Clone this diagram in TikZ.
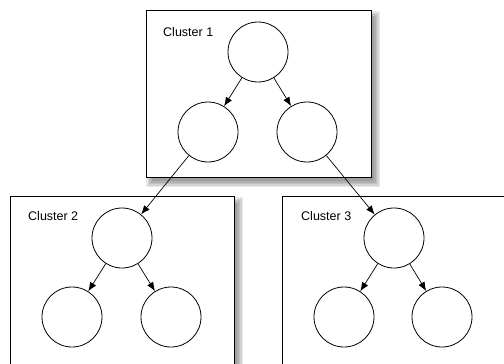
\documentclass[tikz,border=0pt]{standalone}
\usepackage{fontspec}
\setmainfont{Liberation Sans}
\usetikzlibrary{arrows.meta}
\begin{document}
\begin{tikzpicture}[x=1pt,y=-1pt,
  cluster/.style={draw=black,fill=white,line width=0.8pt},
  shade/.style={fill=black,opacity=0.09,draw=none},
  vert/.style={draw=black,fill=white,circle,minimum size=60pt,inner sep=0pt,line width=0.8pt},
  lab/.style={font=\fontsize{12.5}{14}\selectfont,anchor=west,inner sep=0pt},
  arr/.style={-{Latex[length=9pt,width=7pt]},line width=0.7pt}]
\useasboundingbox (0,0) rectangle (504,364);
% shadows
\foreach \k in {0,1.5,3,4.5,6} {
  \path[shade] (149-\k+3,14-\k+3) rectangle (374+\k,181+\k);
  \path[shade] (13-\k+3,200-\k+3) rectangle (237+\k,376);
  \path[shade] (285-\k+3,200-\k+3) rectangle (513,376);
}
% clusters
\path[cluster] (146,10) rectangle (371,177);
\path[cluster] (10,196) rectangle (234,372);
\path[cluster] (282,196) rectangle (510,372);
\node[lab] (l1) at (163,32) {Cluster 1};
\node[lab] (l2) at (28,216) {Cluster 2};
\node[lab] (l3) at (301,216) {Cluster 3};
% cluster 1
\node[vert] (a) at (258,52) {};
\node[vert] (b) at (208,132) {};
\node[vert] (c) at (307,132) {};
% cluster 2
\node[vert] (d) at (122,238) {};
\node[vert] (e) at (72,317) {};
\node[vert] (f) at (171,317) {};
% cluster 3
\node[vert] (g) at (394,238) {};
\node[vert] (h) at (344,317) {};
\node[vert] (i) at (442,317) {};
\draw[arr] (a) -- (b);
\draw[arr] (a) -- (c);
\draw[arr] (d) -- (e);
\draw[arr] (d) -- (f);
\draw[arr] (g) -- (h);
\draw[arr] (g) -- (i);
\draw[arr] (b) -- (d);
\draw[arr] (c) -- (g);
\end{tikzpicture}
\end{document}
